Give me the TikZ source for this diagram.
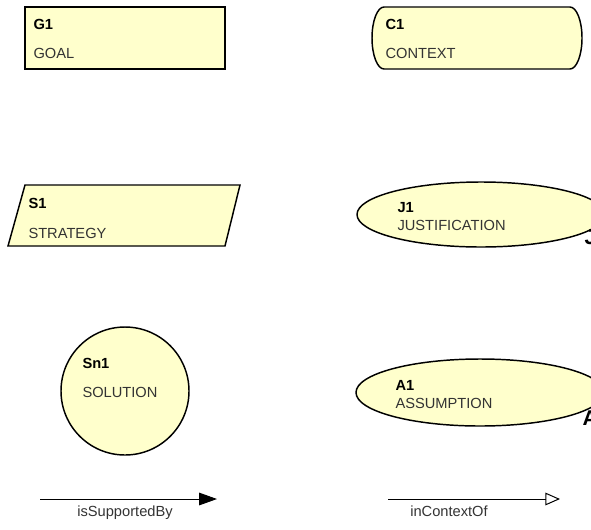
\documentclass[tikz,border=0pt]{standalone}
\usepackage{fontspec}
\setmainfont{Liberation Sans}
\usetikzlibrary{arrows.meta}

\definecolor{gsnyellow}{RGB}{255,255,204}
\definecolor{gsngrey}{RGB}{51,51,51}

\tikzset{every picture/.style={line width=0.75pt}}
\tikzset{
  gsnshape/.style={draw=black, line width=1.1pt, fill=gsnyellow},
  idtext/.style={anchor=base west, inner sep=0pt, font=\fontsize{11}{13}\selectfont\bfseries},
  desctext/.style={anchor=base west, inner sep=0pt, text=gsngrey, font=\fontsize{11}{13}\selectfont},
  linklabel/.style={anchor=base, inner sep=0pt, text=gsngrey, font=\fontsize{11}{13}\selectfont},
  tagtext/.style={anchor=base west, inner sep=0pt, font=\fontsize{16}{18}\selectfont\bfseries}
}

\begin{document}
\begin{tikzpicture}[x=0.75pt,y=0.75pt,yscale=-1,xscale=1]
\useasboundingbox (0,0) rectangle (591,529);

%Shape: Rectangle [goal]
\draw [gsnshape, line width=2.2pt] (25,7) rectangle (225,69) ;
%Shape: Rounded Rectangle [context]
\draw [gsnshape] (384,7) -- (570,7) arc[start angle=-90, end angle=90, x radius=12, y radius=31] -- (384,69) arc[start angle=90, end angle=270, x radius=12, y radius=31] -- cycle ;
%Shape: Parallelogram [strategy]
\draw [gsnshape] (25,185) -- (240,185) -- (225,246) -- (8,246) -- cycle ;
%Shape: Ellipse [justification]
\draw [gsnshape] (481,214.5) ellipse [x radius=124, y radius=32.5] ;
%Shape: Circle [solution]
\draw [gsnshape] (125,391) circle [radius=64] ;
%Shape: Ellipse [assumption]
\draw [gsnshape] (480,392.5) ellipse [x radius=124, y radius=33.5] ;

% Text Node
\node [idtext] (g1id) at (33,29) {G1};
% Text Node
\node [desctext] (g1text) at (33,58) {GOAL};
% Text Node
\node [idtext] (c1id) at (385,29) {C1};
% Text Node
\node [desctext] (c1text) at (385,58) {CONTEXT};
% Text Node
\node [idtext] (s1id) at (28,208) {S1};
% Text Node
\node [desctext] (s1text) at (28,238) {STRATEGY};
% Text Node
\node [idtext] (j1id) at (397,212) {J1};
% Text Node
\node [desctext] (j1text) at (397,230) {JUSTIFICATION};
% Text Node
\node [idtext] (sn1id) at (82,368) {Sn1};
% Text Node
\node [desctext] (sn1text) at (82,397) {SOLUTION};
% Text Node
\node [idtext] (a1id) at (395,390) {A1};
% Text Node
\node [desctext] (a1text) at (395,408) {ASSUMPTION};

% Text Node
\node [tagtext] (jtag) at (584,244) {J};
% Text Node
\node [tagtext] (atag) at (582,425) {A};

%Straight Lines [supported by]
\coordinate (sbstart) at (40,499);
\coordinate (sbend) at (217,499);
\draw [-{Triangle[length=13.5pt,width=9.5pt]}] (sbstart) -- (sbend) ;
% Text Node
\node [linklabel] (sblabel) at (125,516) {isSupportedBy};

%Straight Lines [in context of]
\coordinate (icstart) at (388,499);
\coordinate (icend) at (560,499);
\draw [-{Triangle[open,length=11pt,width=9.5pt]}] (icstart) -- (icend) ;
% Text Node
\node [linklabel] (iclabel) at (449,516) {inContextOf};

\end{tikzpicture}
\end{document}
